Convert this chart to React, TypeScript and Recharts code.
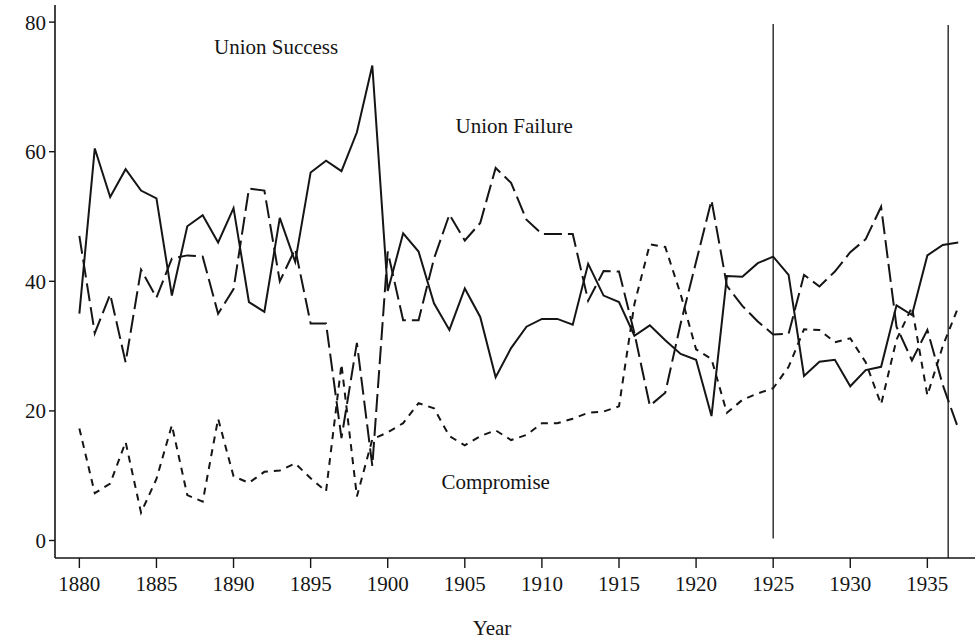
import { LineChart, Line, XAxis, YAxis, ReferenceLine, ReferenceDot } from 'recharts';

// strike outcomes by year, percent of strikes (the three add up to ~100)
const years = [
  1880, 1881, 1882, 1883, 1884, 1885, 1886, 1887, 1888, 1889,
  1890, 1891, 1892, 1893, 1894, 1895, 1896, 1897, 1898, 1899,
  1900, 1901, 1902, 1903, 1904, 1905, 1906, 1907, 1908, 1909,
  1910, 1911, 1912, 1913, 1914, 1915, 1916, 1917, 1918, 1919,
  1920, 1921, 1922, 1923, 1924, 1925, 1926, 1927, 1928, 1929,
  1930, 1931, 1932, 1933, 1934, 1935, 1936, 1937,
];

const unionSuccess = [
  35, 60.5, 53, 57.3, 54, 52.8, 37.8, 48.5, 50.2, 46,
  51.3, 36.8, 35.3, 49.8, 43, 56.8, 58.6, 57, 63, 73.3,
  38.5, 47.4, 44.6, 36.6, 32.5, 38.9, 34.5, 25.2, 29.7, 33,
  34.2, 34.2, 33.3, 42.7, 37.8, 36.8, 31.6, 33.2, 30.9, 28.8,
  27.9, 19.2, 40.8, 40.7, 42.8, 43.8, 41, 25.4, 27.6, 27.9,
  23.8, 26.3, 26.8, 36.3, 34.8, 44, 45.6, 46,
];

const unionFailure = [
  47, 32, 38, 27.5, 41.8, 37.5, 43.5, 44, 43.8, 35,
  38.8, 54.3, 54, 40, 45, 33.5, 33.5, 15.8, 30.5, 11.5,
  44.6, 34, 34, 43.5, 50.3, 46.3, 49, 57.5, 55.2, 49.5,
  47.3, 47.3, 47.3, 37, 41.6, 41.5, 32, 20.8, 22.8, 33.5,
  43, 52.5, 39.3, 36.2, 33.8, 31.8, 31.9, 41, 39.2, 41.5,
  44.5, 46.5, 51.5, 33, 27.8, 32.5, 24, 17.3,
];

const compromise = [
  17.3, 7.3, 8.8, 15.2, 4.3, 9.5, 17.8, 7, 6, 18.8,
  9.9, 8.9, 10.6, 10.8, 11.9, 9.6, 7.6, 27.2, 6.8, 15.6,
  16.7, 18.1, 21.2, 20.4, 16.1, 14.7, 16.1, 17, 15.5, 16.3,
  18.1, 18.1, 18.8, 19.7, 19.9, 20.7, 36.5, 45.7, 45.3, 38,
  29.5, 28, 19.7, 21.7, 22.7, 23.5, 26.8, 32.6, 32.5, 30.6,
  31.2, 27.5, 21, 31, 36, 22.4, 30, 36,
];

const xTicks = [1880, 1885, 1890, 1895, 1900, 1905, 1910, 1915, 1920, 1925, 1930, 1935];
const yTicks = [0, 20, 40, 60, 80];

const FONT = '"Liberation Serif", "Times New Roman", Times, serif';
const INK = '#151515';

// in-plot series names, placed in data coordinates
const seriesNames = [
  { text: 'Union Success', year: 1892.76, value: 76.3 },
  { text: 'Union Failure', year: 1908.2, value: 64 },
  { text: 'Compromise', year: 1907.0, value: 9.1 },
];

export default function App() {
  const data = years.map((year, i) => ({
    year,
    success: unionSuccess[i],
    failure: unionFailure[i],
    compromise: compromise[i],
  }));

  const tickStyle = { fill: INK, fontSize: 21, fontFamily: FONT };

  return (
    <div style={{ position: 'absolute', left: 0, top: 0, width: 975, height: 641, background: '#fff' }}>
      <LineChart width={975} height={641} data={data} margin={{ top: 5, right: 0, bottom: 0, left: 0 }}>
        <XAxis
          dataKey="year"
          type="number"
          domain={[1878.42, 1938.09]}
          allowDataOverflow
          ticks={xTicks}
          interval={0}
          height={83}
          tickSize={10}
          tickMargin={8}
          axisLine={{ stroke: INK, strokeWidth: 1.6 }}
          tickLine={{ stroke: INK, strokeWidth: 1.4 }}
          tick={tickStyle}
          label={{ value: 'Year', position: 'insideBottom', offset: 6, dx: -23, fill: INK, fontSize: 21, fontFamily: FONT }}
        />
        <YAxis
          type="number"
          domain={[-2.7, 82.64]}
          allowDataOverflow
          ticks={yTicks}
          interval={0}
          width={55}
          tickSize={6}
          tickMargin={3}
          axisLine={{ stroke: INK, strokeWidth: 1.6 }}
          tickLine={{ stroke: INK, strokeWidth: 1.4 }}
          tick={tickStyle}
        />
        <ReferenceLine
          segment={[{ x: 1925, y: 79.7 }, { x: 1925, y: 0.3 }]}
          stroke={INK}
          strokeWidth={1.3}
          ifOverflow="visible"
        />
        <ReferenceLine
          segment={[{ x: 1936.35, y: 79.55 }, { x: 1936.35, y: -2.7 }]}
          stroke={INK}
          strokeWidth={1.3}
          ifOverflow="visible"
        />
        <Line
          type="linear"
          dataKey="success"
          stroke={INK}
          strokeWidth={2}
          dot={false}
          isAnimationActive={false}
        />
        <Line
          type="linear"
          dataKey="failure"
          stroke={INK}
          strokeWidth={2}
          strokeDasharray="18 6"
          dot={false}
          isAnimationActive={false}
        />
        <Line
          type="linear"
          dataKey="compromise"
          stroke={INK}
          strokeWidth={2}
          strokeDasharray="7 6"
          dot={false}
          isAnimationActive={false}
        />
        {seriesNames.map((s) => (
          <ReferenceDot
            key={s.text}
            x={s.year}
            y={s.value}
            r={0}
            fill="none"
            stroke="none"
            ifOverflow="visible"
            label={{ value: s.text, position: 'center', fill: INK, fontSize: 21, fontFamily: FONT }}
          />
        ))}
      </LineChart>
    </div>
  );
}
